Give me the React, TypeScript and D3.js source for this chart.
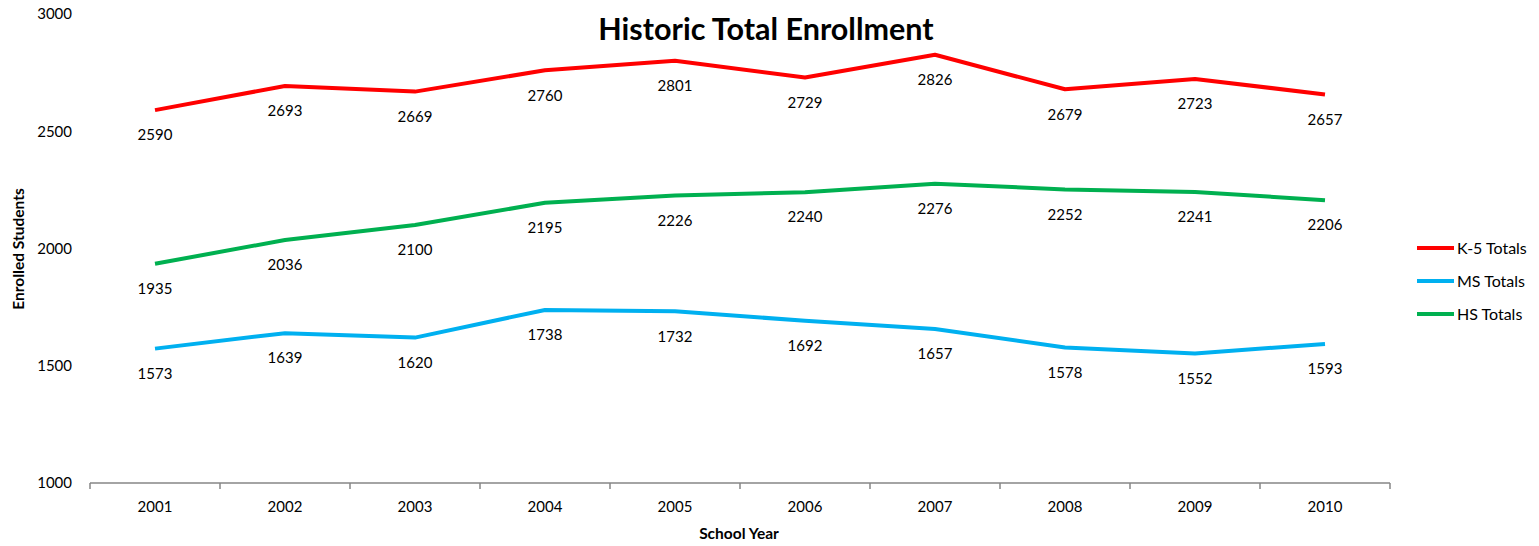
import React from "react";
import * as d3 from "d3";

const years = ["2001", "2002", "2003", "2004", "2005", "2006", "2007", "2008", "2009", "2010"];
const k5Totals = [2590, 2693, 2669, 2760, 2801, 2729, 2826, 2679, 2723, 2657];
const msTotals = [1573, 1639, 1620, 1738, 1732, 1692, 1657, 1578, 1552, 1593];
const hsTotals = [1935, 2036, 2100, 2195, 2226, 2240, 2276, 2252, 2241, 2206];
const yTicks = [1000, 1500, 2000, 2500, 3000];

const series = [
  { name: "K-5 Totals", values: k5Totals, color: "#FF0000" },
  { name: "MS Totals", values: msTotals, color: "#00B0F0" },
  { name: "HS Totals", values: hsTotals, color: "#00B050" },
];

const W = 1539;
const H = 546;
const FONT = "Lato, 'Open Sans', sans-serif";

export default function App() {
  const x = d3.scaleBand<string>().domain(years).range([90, 1390]);
  const y = d3.scaleLinear().domain([1000, 3000]).range([483, 14]);
  const line = d3
    .line<number>()
    .x((_, i) => (x(years[i]) as number) + x.bandwidth() / 2)
    .y((d) => y(d));

  const boundaries = years.map((yr) => x(yr) as number).concat([1390]);

  return (
    <svg
      width={W}
      height={H}
      style={{ position: "absolute", left: 0, top: 0, background: "#fff" }}
      fontFamily={FONT}
    >
      <text x={766} y={40} textAnchor="middle" fontSize={30.5} fontWeight="bold" fill="#000">
        Historic Total Enrollment
      </text>

      {yTicks.map((t) => (
        <text key={t} x={72} y={y(t)} dy="0.35em" textAnchor="end" fontSize={15} fill="#000">
          {t}
        </text>
      ))}

      <line x1={90} x2={1390} y1={483} y2={483} stroke="#868686" strokeWidth={1.5} />
      {boundaries.map((b, i) => (
        <line key={i} x1={b} x2={b} y1={483} y2={489} stroke="#868686" strokeWidth={1.5} />
      ))}
      {years.map((yr) => (
        <text
          key={yr}
          x={(x(yr) as number) + x.bandwidth() / 2}
          y={507}
          dy="0.35em"
          textAnchor="middle"
          fontSize={15}
          fill="#000"
        >
          {yr}
        </text>
      ))}

      <text x={739} y={534} dy="0.35em" textAnchor="middle" fontSize={15.5} fontWeight="bold" fill="#000">
        School Year
      </text>
      <text
        transform={`translate(19,249) rotate(-90)`}
        textAnchor="middle"
        dy="0.35em"
        fontSize={15.5}
        fontWeight="bold"
        fill="#000"
      >
        Enrolled Students
      </text>

      {series.map((s) => (
        <g key={s.name}>
          <path d={line(s.values) as string} fill="none" stroke={s.color} strokeWidth={4} strokeLinejoin="round" />
          {s.values.map((v, i) => (
            <text
              key={i}
              x={(x(years[i]) as number) + x.bandwidth() / 2}
              y={y(v) + 25}
              dy="0.35em"
              textAnchor="middle"
              fontSize={15}
              fill="#000"
            >
              {v}
            </text>
          ))}
        </g>
      ))}

      {series.map((s, i) => (
        <g key={s.name} transform={`translate(0,${248 + i * 33})`}>
          <line x1={1417} x2={1454} y1={0} y2={0} stroke={s.color} strokeWidth={4} />
          <text x={1457} y={0} dy="0.35em" fontSize={16} fill="#000">
            {s.name}
          </text>
        </g>
      ))}
    </svg>
  );
}
